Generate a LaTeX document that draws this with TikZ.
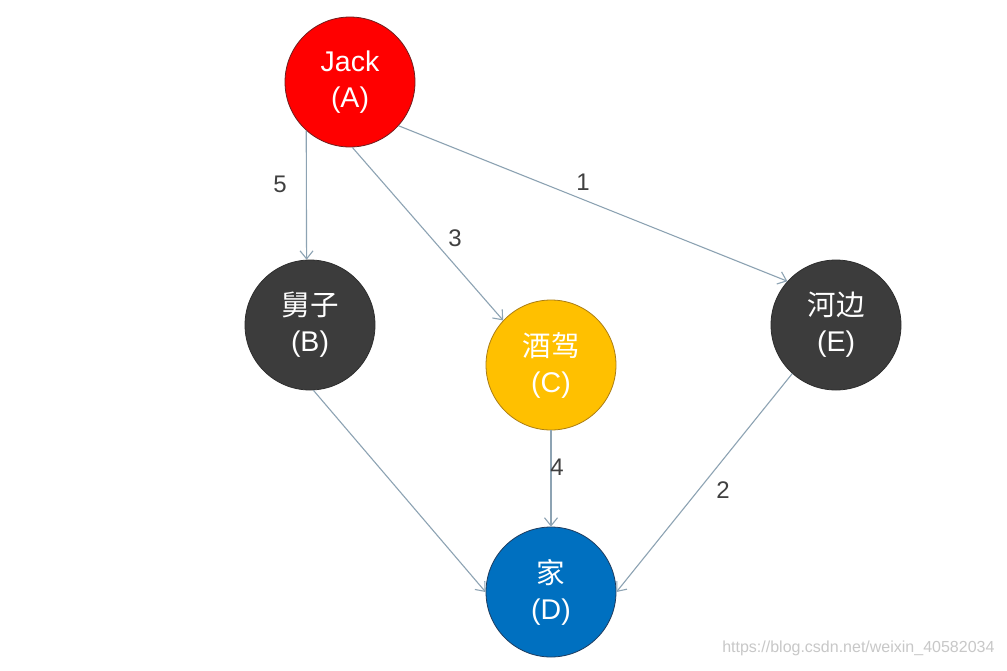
\documentclass[tikz,border=0pt]{standalone}
\usepackage{fontspec}
\setmainfont{Liberation Sans}
\newfontfamily\cjk{Noto Sans CJK SC}
\usetikzlibrary{arrows.meta}
\definecolor{kantenfarbe}{HTML}{8DA3B3}
\definecolor{zahlfarbe}{HTML}{404040}
\tikzset{
    ort/.style={circle,minimum size=130pt,inner sep=0pt,line width=0.8pt,text=white,align=center,font=\fontsize{28.5}{36}\selectfont},
    kante/.style={draw=kantenfarbe,line width=1.1pt,-{Straight Barb[length=8pt,width=13pt]}},
    gewicht/.style={text=zahlfarbe,font=\fontsize{24}{26}\selectfont}
}
\begin{document}
\begin{tikzpicture}[x=1pt,y=-1pt]
        \useasboundingbox[fill=white] (0,0) rectangle (1007,670);
        \node[ort,fill={rgb,255:red,255;green,0;blue,0},draw={rgb,255:red,110;green,30;blue,30}] (A) at (350,82) {Jack\\(A)};
        \node[ort,fill={rgb,255:red,60;green,60;blue,60},draw={rgb,255:red,45;green,45;blue,45}] (B) at (310,325) {{\cjk 舅子}\\(B)};
        \node[ort,fill={rgb,255:red,255;green,192;blue,0},draw={rgb,255:red,170;green,125;blue,20}] (C) at (551,365) {{\cjk 酒驾}\\(C)};
        \node[ort,fill={rgb,255:red,0;green,112;blue,192},draw={rgb,255:red,30;green,60;blue,95}] (D) at (551,592) {{\cjk 家}\\(D)};
        \node[ort,fill={rgb,255:red,60;green,60;blue,60},draw={rgb,255:red,45;green,45;blue,45}] (E) at (836,325) {{\cjk 河边}\\(E)};
        % Wege
        \draw[kante] (A.-132) -- (B.93);
        \draw[kante] (A.-88) -- (C.137);
        \draw[kante] (A.-42) -- (E.138);
        \draw[kante] (B.-87) -- (D.180);
        \draw[kante] (C.south) -- (D.north);
        \draw[kante] (E.-132) -- (D.0);
        % Gewichte
        \node[gewicht] (w5) at (280,184) {5};
        \node[gewicht] (w3) at (455,238) {3};
        \node[gewicht] (w1) at (583,182) {1};
        \node[gewicht] (w4) at (557,467) {4};
        \node[gewicht] (w2) at (723,490) {2};
        \node[text={rgb,255:red,200;green,200;blue,200},font=\fontsize{16}{18}\selectfont,anchor=east] (quelle) at (998,648) {https://blog.csdn.net/weixin\_40582034};
    \end{tikzpicture}
\end{document}
